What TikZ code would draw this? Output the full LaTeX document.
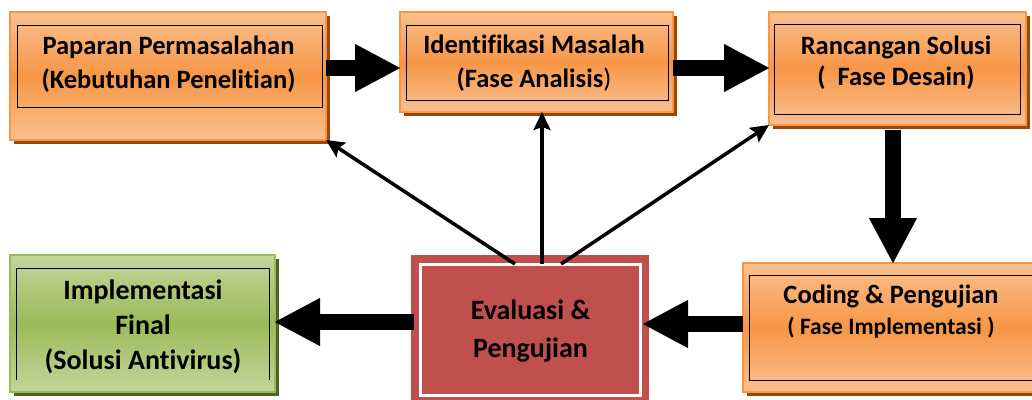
\documentclass[tikz,border=0pt]{standalone}
\usepackage{fontspec}
\setmainfont[Ligatures=NoCommon,RawFeature={-liga;-clig;-dlig;-calt}]{Carlito}
\usetikzlibrary{arrows.meta,shadows}
\definecolor{olight}{HTML}{FAC090}
\definecolor{omid}{HTML}{F79646}
\definecolor{oshadow}{HTML}{984807}
\definecolor{glight}{HTML}{C3D69B}
\definecolor{gmid}{HTML}{9BBB59}
\definecolor{gshadow}{HTML}{4F6228}
\definecolor{redbox}{HTML}{C0504D}
\begin{document}
\begin{tikzpicture}[x=1pt,y=-1pt,
  obox/.style={rectangle, inner sep=0pt, outer sep=0pt, draw=omid, line width=1.2pt,
    top color=olight, bottom color=olight, middle color=omid,
    drop shadow={shadow xshift=4pt, shadow yshift=-4pt, fill=oshadow, opacity=1}},
  gbox/.style={rectangle, inner sep=0pt, outer sep=0pt, draw=gmid, line width=1.2pt,
    top color=glight, bottom color=glight, middle color=gmid,
    drop shadow={shadow xshift=4pt, shadow yshift=-4pt, fill=gshadow, opacity=1}},
  rbox/.style={rectangle, inner sep=0pt, outer sep=0pt, fill=redbox},
  frame/.style={rectangle, inner sep=0pt, outer sep=0pt, draw=black, line width=1pt},
  wframe/.style={rectangle, inner sep=0pt, outer sep=0pt, draw=white, line width=3pt},
  txt/.style={align=center, inner sep=0pt, font=\bfseries\fontsize{26.5pt}{34pt}\selectfont},
  bigarrow/.style={line width=16pt, -{Triangle[length=45pt,width=48pt,line width=0.1pt]}},
  thinarrow/.style={line width=3.5pt, -{Stealth[length=18pt,width=17pt,inset=3pt]}}
]
\useasboundingbox (0,0) rectangle (1032,399);

% boxes
\node[obox, minimum width=316pt, minimum height=128pt] (box1) at (168,76) {};
\node[frame, minimum width=305pt, minimum height=82pt] (in1) at (169.5,66) {};
\node[txt] (t1) at (168.5,64.5) {Paparan Permasalahan\\(Kebutuhan Penelitian)};

\node[obox, minimum width=273pt, minimum height=100pt] (box2) at (536.5,62) {};
\node[frame, minimum width=262pt, minimum height=75pt] (in2) at (537,62.5) {};
\node[txt] (t2) at (534,63.5) {Identifikasi Masalah\\(Fase Analisis{\mdseries)}};

\node[obox, minimum width=257pt, minimum height=113pt] (box3) at (897.5,68.5) {};
\node[frame, minimum width=246pt, minimum height=90pt] (in3) at (897,69) {};
\node[txt, font=\bfseries\fontsize{26.5pt}{31pt}\selectfont] (t3) at (896,62.5) {Rancangan Solusi\\(\ \ Fase Desain)};

\node[gbox, minimum width=265pt, minimum height=137pt] (box4) at (142.5,323.5) {};
\node[inner sep=0pt, outer sep=0pt, minimum width=253pt, minimum height=112pt] (in4) at (142.5,324) {};
\draw[line width=1pt] (in4.south west) -- (in4.north west) -- (in4.north east) -- (in4.south east);
\node[txt, font=\bfseries\fontsize{28pt}{35pt}\selectfont] (t4) at (143,327) {Implementasi\\Final\\(Solusi Antivirus)};

\node[rbox, minimum width=238pt, minimum height=150pt] (box5) at (530,330) {};
\node[wframe, minimum width=220pt, minimum height=131pt] (in5) at (530,329.5) {};
\node[txt, font=\bfseries\fontsize{28pt}{38pt}\selectfont] (t5) at (530.5,331) {Evaluasi \&\\Pengujian};

\node[obox, minimum width=297pt, minimum height=129pt] (box6) at (891.5,327.5) {};
\node[frame, minimum width=287pt, minimum height=105pt] (in6) at (892.5,327.5) {};
\node[txt, font=\bfseries\fontsize{26.5pt}{31pt}\selectfont] (t6) at (891,312) {Coding \& Pengujian\\{\fontsize{23.5pt}{31pt}\selectfont ( Fase Implementasi )}};

% thick arrows
\draw[bigarrow] (box1.east |- 0,68) -- (box2.west |- 0,68);
\draw[bigarrow] (box2.east |- 0,68) -- (box3.west |- 0,68);
\draw[bigarrow, shorten <=5pt] (box3.south -| 893,0) -- (box6.north -| 893,0);
\draw[bigarrow, shorten >=-6pt] (box6.west |- 0,324) -- (box5.east |- 0,324);
\draw[bigarrow, shorten <=-3pt] (box5.west |- 0,322) -- (box4.east |- 0,322);

% thin arrows
\draw[thinarrow] (in5.north -| 515,0) -- (box1.south east);
\draw[thinarrow] (in5.north -| 542,0) -- (box2.south -| 542,0);
\draw[thinarrow] (in5.north -| 561,0) -- (box3.south west);
\end{tikzpicture}
\end{document}
